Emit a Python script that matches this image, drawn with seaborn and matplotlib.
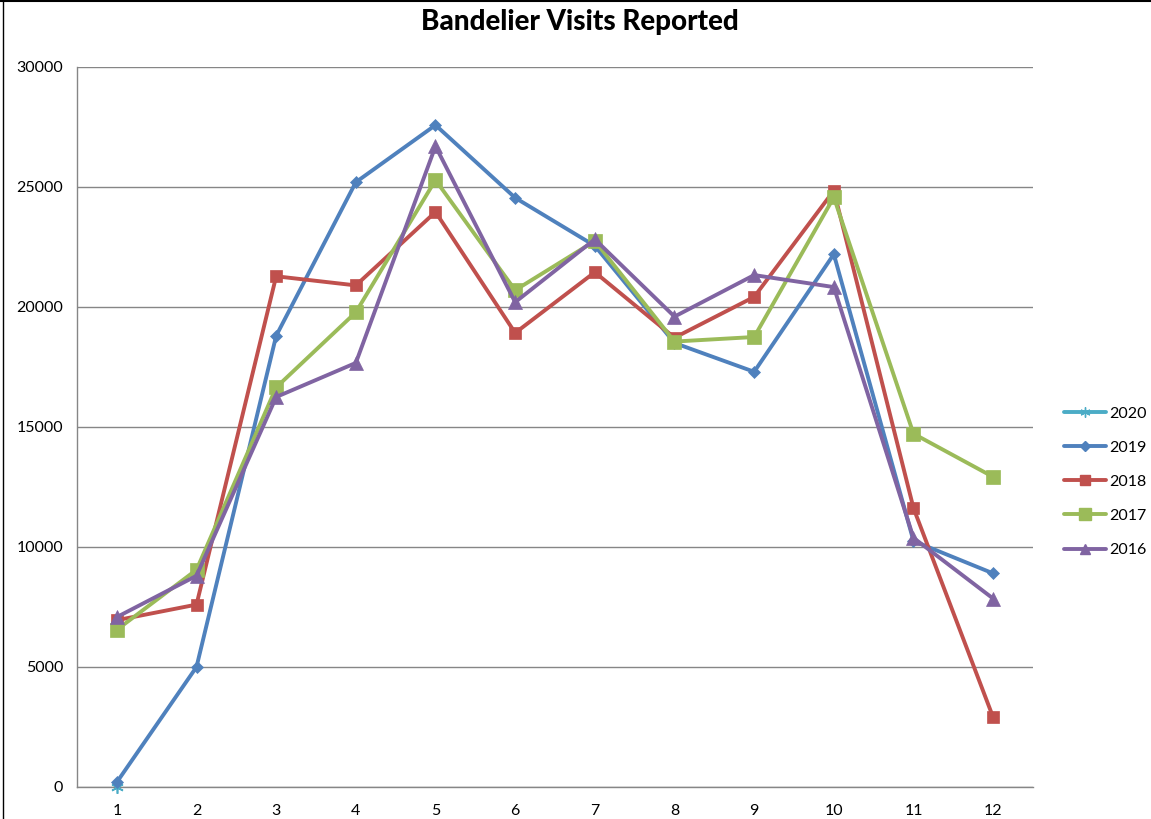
import matplotlib
matplotlib.use("Agg")
import matplotlib.pyplot as plt
import seaborn as sns
import pandas as pd
from matplotlib.ticker import FixedLocator, NullFormatter
from matplotlib.lines import Line2D

months = list(range(1, 13))
v2020 = [0]
v2019 = [200, 5000, 18800, 25200, 27580, 24550, 22550, 18500, 17300, 22200, 10250, 8900]
v2018 = [6950, 7600, 21280, 20900, 23960, 18920, 21450, 18720, 20420, 24850, 11620, 2900]
v2017 = [6550, 9050, 16650, 19780, 25290, 20700, 22750, 18560, 18750, 24570, 14720, 12920]
v2016 = [7080, 8800, 16250, 17670, 26700, 20200, 22820, 19600, 21330, 20830, 10380, 7850]
years = ["2020", "2019", "2018", "2017", "2016"]
series = [v2020, v2019, v2018, v2017, v2016]
title = "Bandelier Visits Reported"

colors = {"2020": "#4BACC6", "2019": "#4F81BD", "2018": "#C0504D",
          "2017": "#9BBB59", "2016": "#8064A2"}
markers = {"2020": (6, 2, 0), "2019": "D", "2018": "s", "2017": "s", "2016": "^"}
msizes = {"2020": 9, "2019": 6.5, "2018": 8.5, "2017": 10, "2016": 9.5}

sns.set_style("white")
plt.rcParams["font.family"] = ["Lato", "DejaVu Sans"]
plt.rcParams["text.color"] = "black"
plt.rcParams["xtick.labelcolor"] = "black"
plt.rcParams["ytick.labelcolor"] = "black"

fig = plt.figure(figsize=(11.51, 8.19), dpi=100)
ax = fig.add_axes([77/1151, 1-787/819, (1033-77)/1151, (787-67)/819])

for y, vals in zip(years, series):
    df = pd.DataFrame({"month": months[:len(vals)], "visits": vals})
    sns.lineplot(data=df, x="month", y="visits", ax=ax, color=colors[y],
                 marker=markers[y], markersize=msizes[y], linewidth=2.8,
                 markeredgecolor=colors[y], markeredgewidth=1.2 if y == "2020" else 0.5,
                 clip_on=False, zorder=3, label=y)

ax.set_xlim(0.5, 12.5)
ax.set_ylim(0, 30000)
ax.set_yticks(range(0, 30001, 5000))
ax.set_xticks(months)
ax.set_xticklabels([str(m) for m in months])
ax.xaxis.set_minor_locator(FixedLocator([m + 0.5 for m in range(0, 13)]))
ax.xaxis.set_minor_formatter(NullFormatter())
ax.tick_params(axis="x", which="major", length=0, pad=12, labelsize=11.5, labelcolor="black")
ax.tick_params(axis="x", which="minor", length=6, width=1, color="#868686", direction="out")
ax.tick_params(axis="y", length=6, width=1, color="#868686", direction="out", labelsize=11.5,
               pad=4, labelcolor="black")
ax.set_xlabel("")
ax.set_ylabel("")
ax.grid(axis="y", color="#868686", linewidth=1)
ax.grid(axis="x", visible=False)
ax.set_axisbelow(True)
for s in ["top", "right"]:
    ax.spines[s].set_visible(False)
for s in ["left", "bottom"]:
    ax.spines[s].set_color("#868686")
    ax.spines[s].set_linewidth(1)
ax.spines["bottom"].set_zorder(2)

ax.legend_.remove()
handles = [Line2D([], [], color=colors[y], marker=markers[y], markersize=msizes[y] * 0.8,
                  linewidth=2.8, markeredgecolor=colors[y]) for y in years]
fig.legend(handles, years, loc="upper left", bbox_to_anchor=(1058/1151, 1-400/819),
           frameon=False, fontsize=11.5, handlelength=2.6, handletextpad=0.2,
           labelspacing=1.25, borderaxespad=0, labelcolor="black")

fig.text(580/1151, 1-22/819, title, ha="center", va="center", fontsize=20,
         fontweight="black", color="black")

# chart frame
fig.add_artist(Line2D([3/1151, 3/1151], [0, 1], color="black", linewidth=1))
fig.add_artist(Line2D([0, 1], [1-1/819, 1-1/819], color="black", linewidth=1.5))

fig.savefig("out.png", dpi=100)
